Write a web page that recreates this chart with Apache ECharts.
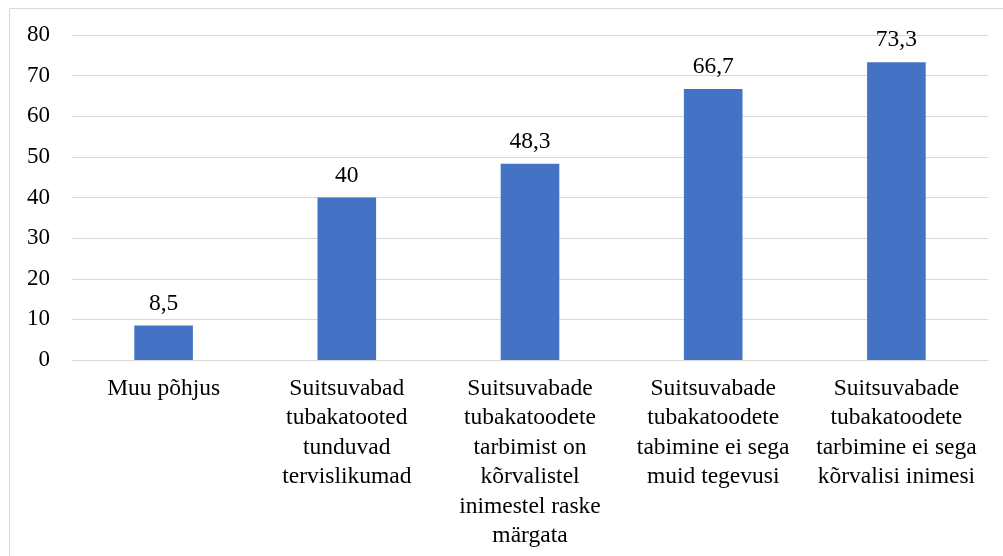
<!DOCTYPE html>
<html>
<head>
<meta charset="utf-8">
<script src="https://cdn.jsdelivr.net/npm/echarts@6/dist/echarts.min.js"></script>
<style>
  html, body { margin: 0; padding: 0; background: #fff; }
</style>
</head>
<body>
<div id="main" style="width:1003px;height:556px;"></div>
<script type="text/javascript">
// categories and values
var categories = [
  'Muu põhjus',
  'Suitsuvabad\ntubakatooted\ntunduvad\ntervislikumad',
  'Suitsuvabade\ntubakatoodete\ntarbimist on\nkõrvalistel\ninimestel raske\nmärgata',
  'Suitsuvabade\ntubakatoodete\ntabimine ei sega\nmuid tegevusi',
  'Suitsuvabade\ntubakatoodete\ntarbimine ei sega\nkõrvalisi inimesi'
];
var values = [8.5, 40, 48.3, 66.7, 73.3];

var font = '"Liberation Serif", "Times New Roman", serif';
var myChart = echarts.init(document.getElementById('main'));

var option = {
  animation: false,
  backgroundColor: '#fff',
  graphic: [{
    type: 'rect',
    shape: { x: 9.5, y: 8.5, width: 1010, height: 560 },
    style: { fill: 'none', stroke: '#d9d9d9', lineWidth: 1 },
    silent: true
  }],
  grid: { left: 72, right: 15, top: 35, bottom: 196 },
  xAxis: {
    type: 'category',
    data: categories,
    axisLine: { lineStyle: { color: '#d9d9d9', width: 1 } },
    axisTick: { show: false },
    axisLabel: {
      interval: 0,
      margin: 14,
      color: '#000',
      fontFamily: font,
      fontSize: 23.5,
      lineHeight: 29.5
    }
  },
  yAxis: {
    type: 'value',
    min: 0,
    max: 80,
    interval: 10,
    axisLine: { show: false },
    axisTick: { show: false },
    splitLine: { lineStyle: { color: '#d9d9d9', width: 1 } },
    axisLabel: {
      margin: 22,
      color: '#000',
      fontFamily: font,
      fontSize: 23
    }
  },
  series: [{
    type: 'bar',
    data: values,
    barWidth: '32%',
    itemStyle: { color: '#4472C4' },
    label: {
      show: true,
      position: 'top',
      distance: 10,
      color: '#000',
      fontFamily: font,
      fontSize: 23.5,
      formatter: function (p) {
        return String(p.value).replace('.', ',');
      }
    }
  }]
};
myChart.setOption(option);
</script>
</body>
</html>
